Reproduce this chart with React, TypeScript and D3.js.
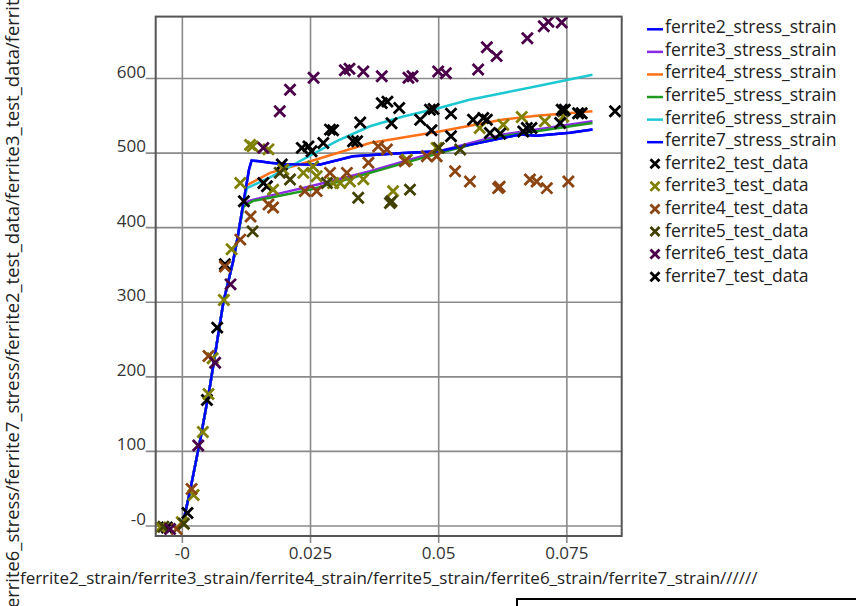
import React from 'react';
import * as d3 from 'd3';

// stress–strain curves, [strain, stress]
const elastic = [[0, 0], [0.0015, 47], [0.0035, 116], [0.0054, 188], [0.008, 300], [0.0099, 355], [0.0106, 380]];
const ferrite2Curve = [[0.0119, 433], [0.013, 478], [0.0135, 490], [0.015, 489], [0.0171, 487], [0.02, 485], [0.0269, 484.6], [0.0333, 495.7], [0.0431, 500], [0.0501, 502.4], [0.056, 511], [0.0658, 524.8], [0.0691, 523.4], [0.0756, 527.4], [0.08, 531.5]];
const ferrite3Curve = [[0.0119, 430], [0.013, 436], [0.019, 446], [0.025, 455.6], [0.0366, 475.6], [0.0501, 502.4], [0.0626, 524.8], [0.08, 542.6]];
const ferrite4Curve = [[0.0119, 433], [0.0126, 457], [0.0171, 473.5], [0.025, 489], [0.0366, 513.6], [0.0501, 529], [0.0626, 545], [0.0691, 550], [0.08, 556]];
const ferrite5Curve = [[0.0119, 428], [0.0138, 436], [0.0171, 440], [0.025, 451], [0.0366, 473.5], [0.0501, 500], [0.0626, 522.5], [0.08, 540.4]];
const ferrite6Curve = [[0.0119, 433], [0.0126, 453], [0.017, 467], [0.021, 482], [0.0301, 516], [0.0366, 536], [0.0431, 549], [0.0501, 560.5], [0.056, 571.6], [0.0626, 580.6], [0.0691, 589.5], [0.08, 605]];
const ferrite7Curve = ferrite2Curve;

// test data, [strain, stress]
const ferrite2Test = [[-0.003, -2], [0.001, 17.4], [0.0048, 169], [0.0068, 266], [0.0083, 351], [0.012, 435.5], [0.0158, 460], [0.0165, 455.6], [0.0194, 484.6], [0.0233, 507], [0.0246, 509], [0.0252, 502.4], [0.0275, 513.6], [0.0288, 531.5], [0.0294, 530.5], [0.0333, 515.8], [0.0341, 515.8], [0.0347, 541], [0.0389, 567], [0.04, 569]];
const ferrite3Test = [[-0.0043, -2], [-0.0001, 5], [0.0022, 41.5], [0.004, 126], [0.0051, 177], [0.0059, 225], [0.0081, 303], [0.0096, 371], [0.0113, 460], [0.0132, 511], [0.0137, 509], [0.0168, 505], [0.0177, 451], [0.0197, 478], [0.0236, 473.5], [0.0255, 482], [0.0262, 469], [0.0294, 460], [0.0308, 460], [0.0327, 462], [0.0353, 465], [0.0411, 449], [0.0438, 491], [0.0496, 507], [0.058, 533.7], [0.0626, 538], [0.0662, 548.5], [0.0707, 542.6], [0.0743, 549]];
const ferrite4Test = [[-0.0011, -4], [0.0018, 49.5], [0.0051, 228], [0.0083, 348], [0.0113, 384], [0.0133, 415], [0.0168, 431], [0.0177, 427], [0.0239, 449], [0.0262, 449], [0.0288, 473.5], [0.0321, 473.5], [0.0363, 487], [0.0382, 509], [0.0399, 504.7], [0.0434, 489], [0.0477, 495.7], [0.0496, 495.7], [0.0532, 475.6], [0.0561, 462], [0.0616, 453], [0.0619, 455], [0.0678, 464.5], [0.0691, 462], [0.0711, 453], [0.0753, 462]];
const ferrite5Test = [[-0.0037, -1], [0.0003, 3], [0.0137, 395], [0.019, 473.5], [0.021, 464.5], [0.0282, 460], [0.0343, 440], [0.0405, 433], [0.0408, 435.5], [0.0444, 451], [0.05, 507], [0.0542, 504.7], [0.0743, 556]];
const ferrite6Test = [[-0.0024, -4], [0.0031, 108], [0.0064, 219], [0.0094, 324], [0.0158, 507], [0.019, 556], [0.021, 585], [0.0256, 601], [0.0317, 611], [0.0326, 613], [0.0353, 609.5], [0.0389, 603], [0.0441, 601], [0.0449, 603], [0.0499, 609.5], [0.0514, 607], [0.0577, 612], [0.0594, 642], [0.0613, 630], [0.0673, 654], [0.0705, 670], [0.0714, 676], [0.074, 675]];
const ferrite7Test = [[0.0408, 540], [0.0423, 560.5], [0.0464, 544.8], [0.0483, 558], [0.049, 559], [0.0486, 530.5], [0.0524, 552.9], [0.0524, 522.5], [0.0567, 544.8], [0.0587, 547], [0.0594, 544.8], [0.06, 527], [0.062, 526], [0.0665, 529], [0.0672, 533.7], [0.0681, 533.7], [0.0737, 540.4], [0.074, 558], [0.0746, 558], [0.0772, 553.5], [0.0779, 553.5], [0.0844, 556]];

const xTicks = [0, 0.025, 0.05, 0.075];
const xTickLabels = ['-0', '0.025', '0.05', '0.075'];
const yTicks = [0, 100, 200, 300, 400, 500, 600];
const yTickLabels = ['-0', '100', '200', '300', '400', '500', '600'];

const lineSeries = [
  { name: 'ferrite2_stress_strain', color: '#0000ff', data: ferrite2Curve },
  { name: 'ferrite3_stress_strain', color: '#8a2be2', data: ferrite3Curve },
  { name: 'ferrite4_stress_strain', color: '#ff7118', data: ferrite4Curve },
  { name: 'ferrite5_stress_strain', color: '#1f9a1f', data: ferrite5Curve },
  { name: 'ferrite6_stress_strain', color: '#1ec8d2', data: ferrite6Curve },
  { name: 'ferrite7_stress_strain', color: '#0000ff', data: ferrite7Curve },
];
const scatterSeries = [
  { name: 'ferrite2_test_data', color: '#000000', data: ferrite2Test },
  { name: 'ferrite3_test_data', color: '#7f7f00', data: ferrite3Test },
  { name: 'ferrite4_test_data', color: '#8b4513', data: ferrite4Test },
  { name: 'ferrite5_test_data', color: '#404000', data: ferrite5Test },
  { name: 'ferrite6_test_data', color: '#4a0048', data: ferrite6Test },
  { name: 'ferrite7_test_data', color: '#000000', data: ferrite7Test },
];

const W = 856, H = 606;
const left = 155.7, right = 621.7, top = 16.6, bottom = 536;
const font = '"Open Sans", "Noto Sans", sans-serif';

export default function App() {
  const x = d3.scaleLinear().domain([-0.0052, 0.0857]).range([left, right]);
  const y = d3.scaleLinear().domain([-13.4, 683]).range([bottom, top]);
  const line = d3.line<number[]>().x(d => x(d[0])).y(d => y(d[1]));
  const cross = d3.symbol().type(d3.symbolX).size(80)();
  const legendCross = d3.symbol().type(d3.symbolX).size(55)();

  const yLabel = lineSeries.map(s => s.name.replace('_stress_strain', '_stress'))
    .concat(scatterSeries.map(s => s.name)).join('/');
  const xLabel = lineSeries.map(s => s.name.replace('_stress_strain', '_strain'))
    .concat(scatterSeries.map(() => '')).join('/');

  const grid = '#8a8a8a';
  const legendY = (i: number) => 27.3 + i * 22.58;

  return (
    <svg width={W} height={H} style={{ position: 'absolute', left: 0, top: 0, background: '#fff' }}
      fontFamily={font}>
      <defs>
        <clipPath id="plot">
          <rect x={left} y={top} width={right - left} height={bottom - top} />
        </clipPath>
      </defs>
      <rect width={W} height={H} fill="#fff" />

      {/* grid + ticks */}
      {yTicks.map((t, i) => (
        <g key={'y' + t}>
          <line x1={left - 10} x2={right} y1={y(t)} y2={y(t)} stroke={grid} strokeWidth={1.6} />
          <text x={146} y={y(t) - 1} textAnchor="end" fontSize={17} fill="#333">{yTickLabels[i]}</text>
        </g>
      ))}
      {xTicks.map((t, i) => (
        <g key={'x' + t}>
          <line x1={x(t)} x2={x(t)} y1={top} y2={bottom + 7} stroke={grid} strokeWidth={1.6} />
          <text x={x(t)} y={559} textAnchor="middle" fontSize={17} fill="#333">{xTickLabels[i]}</text>
        </g>
      ))}

      <g clipPath="url(#plot)">
        {lineSeries.map(s => (
          <path key={s.name} d={line(elastic.concat(s.data)) || ''} fill="none" stroke={s.color} strokeWidth={2.5} />
        ))}
        {scatterSeries.map(s => (
          <g key={s.name}>
            {s.data.map((d, j) => (
              <path key={j} d={cross || ''} transform={`translate(${x(d[0])},${y(d[1])})`}
                fill="none" stroke={s.color} strokeWidth={2.8} />
            ))}
          </g>
        ))}
      </g>

      <rect x={left} y={top} width={right - left} height={bottom - top} fill="none" stroke="#555" strokeWidth={2} />

      {/* axis titles */}
      <text x={388.7} y={584} textAnchor="middle" fontSize={17} fill="#222">{xLabel}</text>
      <text transform={`translate(19,276) rotate(-90)`} textAnchor="middle" fontSize={18.4} fill="#222">{yLabel}</text>

      {/* legend */}
      {lineSeries.map((s, i) => (
        <g key={s.name}>
          <line x1={647} x2={663} y1={legendY(i) + 2} y2={legendY(i) + 2} stroke={s.color} strokeWidth={2.5} />
          <text x={665} y={legendY(i) + 6} fontSize={17.6} fill="#222">{s.name}</text>
        </g>
      ))}
      {scatterSeries.map((s, i) => (
        <g key={s.name}>
          <path d={legendCross || ''}
            transform={`translate(655,${legendY(i + 6) + 1})`} fill="none" stroke={s.color} strokeWidth={2.8} />
          <text x={665} y={legendY(i + 6) + 6} fontSize={17.6} fill="#222">{s.name}</text>
        </g>
      ))}

      <rect x={517} y={599} width={400} height={60} fill="#fff" stroke="#000" strokeWidth={2} />
    </svg>
  );
}
